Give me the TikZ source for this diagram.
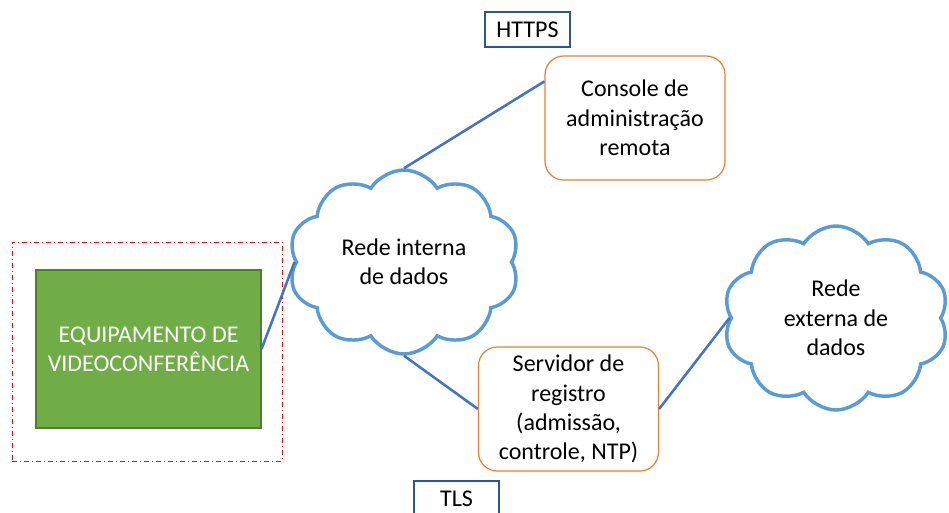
\documentclass[tikz,border=0pt]{standalone}
\usepackage{fontspec}
\setmainfont{Carlito}
\usetikzlibrary{shapes.symbols,positioning}
\definecolor{linkblue}{HTML}{4472C4}
\definecolor{cloudblue}{HTML}{5B9BD5}
\definecolor{boxorange}{HTML}{ED7D31}
\definecolor{equipgreen}{HTML}{70AD47}
\definecolor{equipborder}{HTML}{507E32}
\definecolor{tagblue}{HTML}{2F5597}

\begin{document}
\begin{tikzpicture}[x=0.75pt,y=-0.75pt,font=\fontsize{18}{22}\selectfont]
            \tikzstyle{every node}=[align=center,inner sep=0pt]
            \tikzstyle{tag}=[draw=tagblue,line width=0.8pt,minimum width=63.75pt,minimum height=26.25pt]
            \tikzstyle{box}=[draw=boxorange,line width=0.9pt,rounded corners=14pt,
                minimum width=135pt,minimum height=93pt]
            \tikzstyle{net}=[cloud,draw=cloudblue,line width=2.6pt,cloud puffs=10,cloud puff arc=115,
                cloud ignores aspect,minimum height=138pt]
            \tikzstyle{link}=[draw=linkblue,line width=1.9pt]
            \clip (0,0) rectangle (949,512);

            % frame and equipment
            \node[draw=red,line width=0.6pt,dash pattern=on 4pt off 2pt on 1pt off 2pt,
                minimum width=202.5pt,minimum height=164.25pt] (frame) at (147,351.5) {};
            \node[draw=equipborder,fill=equipgreen,line width=0.8pt,text=white,
                minimum width=168.75pt,minimum height=118.5pt] (equip) at (148.5,349) {EQUIPAMENTO DE\\VIDEOCONFERÊNCIA};

            % networks
            \node[net,minimum width=173pt] (int_net) at (404,262) {Rede interna\\de dados};
            \node[net,minimum width=169pt] (ext_net) at (836,318) {Rede\\externa de\\dados};

            % servers
            \node[box] (console) at (635,118) {Console de\\administração\\remota};
            \node[box] (serv) at (568.5,409) {Servidor de\\registro\\(admissão,\\controle, NTP)};

            % protocol tags
            \node[tag] (https) at (527.5,29.5) {HTTPS};
            \node[tag] (tls) at (456.5,498.5) {TLS};

            \path[link]
                (equip.east)    edge (int_net.west)
                (int_net.north) edge (console.158)
                (int_net.south) edge (serv.west)
                (serv.east)     edge (ext_net.west)
                ;
\end{tikzpicture}
\end{document}
